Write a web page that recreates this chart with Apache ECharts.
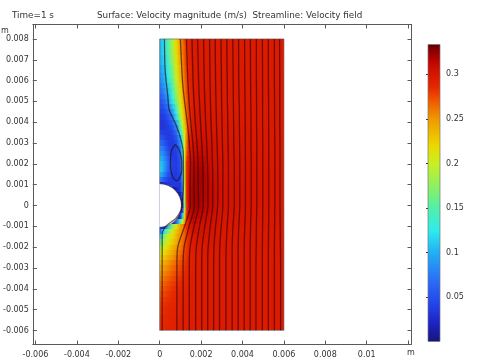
<!DOCTYPE html>
<html>
<head>
<meta charset="utf-8">
<style>
html, body { margin: 0; padding: 0; background: #fff; }
#chart { width: 481px; height: 363px; }
</style>
<script src="https://cdn.jsdelivr.net/npm/echarts@6/dist/echarts.min.js"></script>
</head>
<body>
<div id="chart"></div>
<script>
// lengths below are in mm, speeds in mm/s (both)
const MM = 0.001;
const xTicks = [-0.006, -0.004, -0.002, 0, 0.002, 0.004, 0.006, 0.008, 0.01, 0.012];
const xTickLabels = [-0.006, -0.004, -0.002, 0, 0.002, 0.004, 0.006, 0.008, 0.01];
const yTicks = [-0.006, -0.005, -0.004, -0.003, -0.002, -0.001, 0, 0.001, 0.002, 0.003, 0.004, 0.005, 0.006, 0.007, 0.008];
const barTicks = [0.05, 0.1, 0.15, 0.2, 0.25, 0.3];
const barMax = 0.3336;

// colour table of the legend: [speed in m/s, colour]
const colorTable = [
    [0, '#15157a'], [0.02, '#1c22c0'], [0.04, '#2240e8'], [0.07, '#2a70f8'], [0.1, '#20b0f4'],
    [0.125, '#30ecec'], [0.15, '#50f0a8'], [0.175, '#90f060'], [0.2, '#c8f020'], [0.22, '#ecd800'],
    [0.25, '#f09800'], [0.27, '#f05800'], [0.285, '#e62800'], [0.295, '#dc1a00'], [0.305, '#d01000'], [0.315, '#b80400'],
    [0.325, '#920000'], [0.3336, '#5c0000'],
];

// surface: speed at each column for each row
const surfaceX = [0, 0.2, 0.4, 0.6, 0.8, 1, 1.1, 1.2, 1.3, 1.4, 1.6, 2, 2.5, 3, 6];
const surfaceY = [8, 7.5, 7, 6.5, 6.25, 6, 5.75, 5.5, 5.25, 5, 4.75, 4.5, 4.25, 4, 3.75, 3.5, 3.25, 3, 2.75, 2.5, 2.25, 2, 1.75, 1.5, 1.25, 1, 0.75, 0.5, 0.25, 0,
    -0.25, -0.5, -0.75, -1, -1.25, -1.5, -1.75, -2, -2.25, -2.5, -2.75, -3, -3.25, -3.5, -3.75, -4, -4.25, -4.5, -4.75, -5, -5.5, -6];
const surfaceSpeed = [
    [100, 120, 150, 185, 220, 250, 262, 275, 285, 290, 295, 295, 295, 295, 295],
    [100, 118, 148, 182, 218, 248, 260, 272, 283, 290, 295, 295, 295, 295, 295],
    [98, 112, 140, 175, 212, 243, 256, 270, 282, 290, 295, 295, 295, 295, 295],
    [90, 105, 130, 165, 205, 238, 252, 267, 280, 288, 295, 296, 295, 295, 295],
    [85, 100, 125, 160, 200, 235, 250, 265, 278, 288, 295, 296, 295, 295, 295],
    [80, 95, 120, 155, 195, 232, 248, 263, 277, 287, 295, 296, 295, 295, 295],
    [72, 88, 112, 148, 188, 227, 244, 260, 276, 286, 295, 296, 295, 295, 295],
    [65, 80, 105, 140, 180, 222, 240, 258, 274, 285, 295, 297, 296, 295, 295],
    [57, 70, 95, 130, 172, 217, 236, 255, 272, 284, 295, 297, 296, 295, 295],
    [50, 60, 85, 120, 165, 212, 232, 252, 270, 283, 295, 298, 296, 295, 295],
    [45, 52, 72, 105, 150, 205, 226, 248, 268, 282, 296, 298, 296, 295, 295],
    [40, 45, 60, 90, 135, 195, 220, 245, 265, 281, 297, 299, 297, 295, 295],
    [35, 38, 50, 72, 118, 182, 210, 240, 262, 280, 297, 300, 297, 296, 295],
    [32, 33, 42, 58, 100, 165, 198, 232, 258, 278, 298, 301, 298, 296, 295],
    [33, 33, 38, 48, 82, 145, 185, 225, 255, 279, 299, 302, 299, 297, 295],
    [42, 38, 36, 42, 65, 122, 168, 215, 255, 282, 300, 303, 300, 297, 295],
    [55, 45, 36, 38, 52, 100, 150, 210, 258, 285, 302, 305, 301, 298, 295],
    [70, 55, 40, 35, 45, 85, 135, 210, 262, 288, 304, 307, 302, 298, 295],
    [85, 68, 45, 35, 40, 72, 122, 205, 265, 290, 306, 309, 303, 299, 295],
    [95, 78, 52, 36, 38, 62, 115, 205, 270, 293, 308, 311, 304, 299, 295],
    [105, 88, 60, 38, 36, 55, 108, 205, 278, 297, 310, 314, 305, 300, 295],
    [115, 95, 65, 40, 36, 50, 105, 205, 285, 300, 313, 316, 306, 300, 295],
    [118, 95, 62, 40, 36, 48, 100, 205, 285, 300, 315, 318, 307, 300, 296],
    [105, 80, 52, 38, 35, 45, 95, 205, 285, 302, 317, 319, 308, 301, 296],
    [80, 55, 40, 35, 35, 42, 90, 205, 285, 303, 318, 320, 309, 301, 296],
    [20, 25, 32, 35, 35, 35, 80, 200, 285, 304, 319, 320, 310, 302, 296],
    [0, 0, 0, 0, 20, 35, 75, 200, 285, 306, 320, 319, 310, 302, 296],
    [0, 0, 0, 0, 0, 15, 60, 190, 285, 307, 320, 319, 310, 302, 296],
    [0, 0, 0, 0, 0, 0, 30, 180, 285, 308, 320, 318, 310, 302, 296],
    [0, 0, 0, 0, 0, 0, 15, 170, 280, 308, 320, 316, 309, 302, 296],
    [0, 0, 0, 0, 0, 0, 40, 190, 280, 306, 318, 314, 308, 301, 296],
    [0, 0, 0, 0, 0, 30, 110, 225, 285, 304, 315, 311, 306, 300, 296],
    [0, 0, 0, 0, 60, 150, 195, 245, 280, 298, 310, 307, 304, 299, 296],
    [30, 30, 110, 170, 210, 245, 255, 270, 285, 295, 305, 304, 302, 298, 296],
    [55, 120, 170, 205, 230, 250, 260, 270, 280, 290, 303, 303, 300, 297, 295],
    [110, 165, 195, 215, 235, 255, 262, 270, 280, 288, 298, 300, 299, 297, 295],
    [145, 185, 208, 225, 240, 256, 264, 272, 280, 287, 295, 298, 298, 296, 295],
    [180, 205, 222, 236, 248, 260, 267, 274, 281, 287, 294, 296, 297, 296, 295],
    [200, 216, 230, 242, 254, 264, 270, 276, 282, 287, 292, 295, 295, 295, 295],
    [215, 228, 240, 250, 260, 268, 273, 278, 283, 287, 292, 294, 295, 295, 295],
    [228, 240, 250, 258, 266, 273, 277, 281, 285, 288, 292, 294, 295, 295, 295],
    [238, 248, 256, 264, 271, 277, 280, 283, 286, 289, 292, 294, 295, 295, 295],
    [246, 255, 262, 269, 275, 280, 283, 285, 288, 290, 293, 294, 295, 295, 295],
    [254, 261, 268, 274, 279, 283, 285, 287, 289, 291, 293, 294, 295, 295, 295],
    [260, 267, 273, 278, 282, 286, 287, 289, 290, 291, 293, 294, 295, 295, 295],
    [266, 272, 277, 281, 285, 288, 289, 290, 291, 292, 293, 294, 295, 295, 295],
    [270, 276, 280, 284, 287, 289, 290, 291, 292, 292, 293, 294, 295, 295, 295],
    [274, 279, 283, 286, 288, 290, 291, 291, 292, 293, 293, 294, 295, 295, 295],
    [277, 282, 285, 287, 289, 291, 291, 292, 292, 293, 293, 294, 295, 295, 295],
    [279, 284, 287, 289, 290, 291, 292, 292, 293, 293, 293, 294, 295, 295, 295],
    [282, 286, 288, 290, 291, 292, 292, 293, 293, 293, 294, 294, 295, 295, 295],
    [284, 287, 289, 290, 291, 292, 293, 293, 293, 294, 294, 294, 295, 295, 295],
];

// streamlines: x at each height
const streamY = [-6, -3, -2, -1, 0, 1, 2, 3, 4, 5, 6, 8];
const streamX = [
    [0.83, 0.83, 0.87, 1.2, 1.48, 1.47, 1.49, 1.43, 1.33, 1.2, 1.1, 1.0],
    [1.13, 1.13, 1.18, 1.42, 1.68, 1.66, 1.66, 1.6, 1.5, 1.42, 1.36, 1.29],
    [1.43, 1.43, 1.47, 1.66, 1.88, 1.86, 1.85, 1.8, 1.72, 1.66, 1.61, 1.56],
    [1.74, 1.74, 1.77, 1.92, 2.1, 2.1, 2.08, 2.03, 1.97, 1.92, 1.88, 1.83],
    [2.03, 2.03, 2.05, 2.18, 2.33, 2.33, 2.31, 2.27, 2.22, 2.18, 2.15, 2.12],
    [2.32, 2.32, 2.34, 2.44, 2.56, 2.56, 2.55, 2.52, 2.48, 2.45, 2.43, 2.41],
    [2.61, 2.61, 2.62, 2.7, 2.8, 2.81, 2.8, 2.77, 2.74, 2.72, 2.7, 2.68],
    [2.89, 2.89, 2.9, 2.97, 3.05, 3.05, 3.05, 3.03, 3.01, 2.99, 2.98, 2.96],
    [3.2, 3.2, 3.21, 3.26, 3.32, 3.32, 3.32, 3.3, 3.29, 3.27, 3.26, 3.24],
    [3.5, 3.5, 3.5, 3.54, 3.6, 3.6, 3.6, 3.58, 3.57, 3.56, 3.55, 3.53],
    [3.79, 3.79, 3.79, 3.82, 3.87, 3.87, 3.87, 3.86, 3.85, 3.84, 3.82, 3.81],
    [4.08, 4.08, 4.08, 4.11, 4.14, 4.14, 4.14, 4.13, 4.13, 4.12, 4.11, 4.1],
    [4.37, 4.37, 4.37, 4.39, 4.42, 4.42, 4.42, 4.41, 4.41, 4.4, 4.39, 4.38],
    [4.65, 4.65, 4.66, 4.67, 4.69, 4.69, 4.69, 4.69, 4.68, 4.68, 4.67, 4.67],
    [4.96, 4.96, 4.96, 4.97, 4.98, 4.98, 4.98, 4.98, 4.97, 4.97, 4.97, 4.96],
    [5.25, 5.25, 5.25, 5.26, 5.27, 5.27, 5.27, 5.27, 5.26, 5.26, 5.25, 5.25],
    [5.54, 5.54, 5.54, 5.55, 5.56, 5.56, 5.56, 5.56, 5.55, 5.55, 5.54, 5.54],
    [5.84, 5.84, 5.83, 5.82, 5.81, 5.81, 5.81, 5.81, 5.8, 5.8, 5.8, 5.79],
];
// the line that hugs the cylinder and the eddy above it
const wallStream = [[0.12, -6], [0.12, -2.62], [0.12, -1.42], [0.23, -1.08], [0.47, -0.85], [0.79, -0.61], [1.03, -0.22], [1.08, 0.12], [1.14, 0.74],
    [1.15, 1.22], [1.14, 2.5], [1.03, 3.15], [0.79, 3.87], [0.46, 4.59], [0.39, 5.26], [0.26, 6.54], [0.23, 8]];
const eddyStream = [[0.76, 2.94], [0.94, 2.67], [1.06, 2.19], [1.07, 1.71], [0.96, 1.32], [0.83, 1.19], [0.65, 1.32], [0.54, 1.71], [0.52, 2.19], [0.58, 2.67], [0.76, 2.94]];
const domainOutline = [[0, 1.05], [0, 8], [6, 8], [6, -6], [0, -6], [0, -1.05]];
const cylinderRadius = 1.05;

function speedColor(v) {
    for (let i = 1; i < colorTable.length; i++) {
        if (v <= colorTable[i][0]) {
            const a = colorTable[i - 1], b = colorTable[i];
            return echarts.color.lerp((v - a[0]) / (b[0] - a[0]), [a[1], b[1]]);
        }
    }
    return colorTable[colorTable.length - 1][1];
}

const toMetres = pts => pts.map(p => [p[0] * MM, p[1] * MM]);
const textColor = '#333';
const fontFamily = '"DejaVu Sans"';
const frameColor = '#5a5a5a';

function streamSeries(points) {
    return {
        type: 'line', xAxisIndex: 0, yAxisIndex: 0, data: toMetres(points), smooth: 0.25, showSymbol: false, silent: true, z: 5,
        lineStyle: { color: 'rgba(40,5,10,0.62)', width: 1.3 },
    };
}

function headText(text, left, top, size) {
    return { text: text, left: left, top: top, padding: 0, textStyle: { color: textColor, fontSize: size, fontWeight: 'normal', fontFamily: fontFamily } };
}

const chart = echarts.init(document.getElementById('chart'));
const frameAxis = {
    axisLine: { show: true, onZero: false, lineStyle: { color: frameColor, width: 1 } },
    axisTick: { show: true, inside: true, length: 4, lineStyle: { color: frameColor, width: 1 } },
    splitLine: { show: false },
};
const xBounds = { type: 'value', min: -0.00613, max: 0.012163, gridIndex: 0 };
const yBounds = { type: 'value', min: -0.006676, max: 0.008694, gridIndex: 0 };
const tickLabel = { color: textColor, fontSize: 8, fontFamily: fontFamily, hideOverlap: false };

const option = {
    animation: false,
    backgroundColor: '#fff',
    title: [
        headText('Time=1 s', 12, 11, 8.8),
        headText('Surface: Velocity magnitude (m/s)  Streamline: Velocity field', 97, 11, 8.8),
        headText('m', 1, 27, 8),
        headText('m', 407, 349, 8),
    ],
    grid: [
        { left: 31, top: 24.5, width: 380.5, height: 320 },
        { left: 428, top: 44.5, width: 12, height: 297 },
    ],
    xAxis: [
        Object.assign({}, xBounds, frameAxis, {
            position: 'bottom',
            axisTick: Object.assign({}, frameAxis.axisTick, { customValues: xTicks }),
            axisLabel: Object.assign({}, tickLabel, { customValues: xTickLabels, margin: 6, formatter: v => String(v) }),
        }),
        Object.assign({}, xBounds, frameAxis, {
            position: 'top',
            axisTick: Object.assign({}, frameAxis.axisTick, { customValues: xTicks }),
            axisLabel: { show: false },
        }),
        { type: 'value', gridIndex: 1, min: 0, max: 1, show: false },
    ],
    yAxis: [
        Object.assign({}, yBounds, frameAxis, {
            position: 'left',
            axisTick: Object.assign({}, frameAxis.axisTick, { customValues: yTicks }),
            axisLabel: Object.assign({}, tickLabel, { customValues: yTicks, margin: 4, formatter: v => String(v) }),
        }),
        Object.assign({}, yBounds, frameAxis, {
            position: 'right',
            axisTick: Object.assign({}, frameAxis.axisTick, { customValues: yTicks }),
            axisLabel: { show: false },
        }),
        {
            type: 'value', gridIndex: 1, min: 0, max: barMax, position: 'right', splitLine: { show: false },
            axisLine: { show: false },
            axisTick: { show: true, inside: true, length: 2, customValues: barTicks, lineStyle: { color: '#333', width: 1 } },
            axisLabel: Object.assign({}, tickLabel, { customValues: barTicks, margin: 6, formatter: v => String(v) }),
        },
        {
            type: 'value', gridIndex: 1, min: 0, max: barMax, position: 'left', splitLine: { show: false },
            axisLine: { show: false },
            axisTick: { show: true, inside: true, length: 2, customValues: barTicks, lineStyle: { color: '#333', width: 1 } },
            axisLabel: { show: false },
        },
    ],
    series: [
        {
            // surface, one band per row, colour runs across the band
            type: 'custom', xAxisIndex: 0, yAxisIndex: 0, silent: true, z: 1, clip: false,
            encode: { x: [0, 1], y: [2, 3] },
            data: surfaceY.map((y, i) => {
                const top = i === 0 ? y : (y + surfaceY[i - 1]) / 2;
                const bottom = i === surfaceY.length - 1 ? y : (y + surfaceY[i + 1]) / 2;
                return [0, 6 * MM, top * MM, bottom * MM, i];
            }),
            renderItem: (params, api) => {
                const tl = api.coord([api.value(0), api.value(2)]);
                const br = api.coord([api.value(1), api.value(3)]);
                const row = surfaceSpeed[api.value(4)];
                const x0 = surfaceX[0], span = surfaceX[surfaceX.length - 1] - x0;
                const colorStops = row.map((v, k) => ({ offset: (surfaceX[k] - x0) / span, color: speedColor(v / 1000) }));
                const top = Math.round(tl[1]), bottom = Math.round(br[1]);
                return {
                    type: 'rect',
                    shape: { x: tl[0], y: top, width: br[0] - tl[0], height: bottom - top },
                    style: { fill: { type: 'linear', x: 0, y: 0, x2: 1, y2: 0, colorStops: colorStops } },
                };
            },
        },
        {
            // cylinder cut out of the domain
            type: 'custom', xAxisIndex: 0, yAxisIndex: 0, silent: true, z: 3, clip: false,
            data: [[0, 0, cylinderRadius * MM]],
            renderItem: (params, api) => {
                const c = api.coord([api.value(0), api.value(1)]);
                const r = api.size([api.value(2), 0])[0];
                return {
                    type: 'group',
                    children: [
                        { type: 'sector', shape: { cx: c[0], cy: c[1], r0: 0, r: r, startAngle: -Math.PI / 2, endAngle: Math.PI / 2 }, style: { fill: '#fff' } },
                        { type: 'arc', shape: { cx: c[0], cy: c[1], r: r, startAngle: -Math.PI / 2, endAngle: Math.PI / 2 }, style: { fill: null, stroke: 'rgba(60,60,60,0.6)', lineWidth: 1 } },
                    ],
                };
            },
        },
    ].concat(streamX.map(xs => streamSeries(xs.map((x, i) => [x, streamY[i]]))), [
        streamSeries(wallStream),
        streamSeries(eddyStream),
        {
            type: 'line', xAxisIndex: 0, yAxisIndex: 0, data: toMetres(domainOutline), showSymbol: false, silent: true, z: 6,
            lineStyle: { color: 'rgba(80,80,80,0.6)', width: 1 },
        },
        {
            // colour legend
            type: 'custom', xAxisIndex: 2, yAxisIndex: 2, silent: true, z: 1,
            data: [[0, 1, 0, barMax]],
            renderItem: (params, api) => {
                const tl = api.coord([api.value(0), api.value(3)]);
                const br = api.coord([api.value(1), api.value(2)]);
                const colorStops = colorTable.map(s => ({ offset: 1 - s[0] / barMax, color: s[1] })).reverse();
                return {
                    type: 'rect',
                    shape: { x: tl[0], y: tl[1], width: br[0] - tl[0], height: br[1] - tl[1] },
                    style: { fill: { type: 'linear', x: 0, y: 0, x2: 0, y2: 1, colorStops: colorStops }, stroke: '#777', lineWidth: 0.7 },
                };
            },
        },
    ]),
};
chart.setOption(option);
</script>
</body>
</html>
